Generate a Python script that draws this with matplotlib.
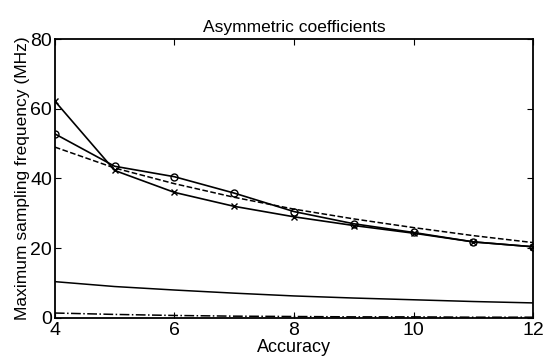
import matplotlib
matplotlib.use("Agg")
import matplotlib.pyplot as plt

plt.rcParams['font.family'] = ['Liberation Sans', 'DejaVu Sans']

accuracy = [4, 5, 6, 7, 8, 9, 10, 11, 12]
cross_vals = [62.2, 42.3, 36.0, 32.0, 29.0, 26.5, 24.3, 21.8, 20.4]
circle_vals = [52.8, 43.5, 40.5, 35.8, 30.5, 27.0, 24.5, 21.8, 20.4]
dashed_vals = [49.0, 43.0, 38.5, 34.6, 31.2, 28.4, 25.9, 23.6, 21.6]
lower_vals = [10.4, 9.0, 8.0, 7.1, 6.3, 5.7, 5.2, 4.7, 4.3]
dashdot_vals = [1.4, 1.0, 0.7, 0.5, 0.4, 0.3, 0.3, 0.2, 0.2]

fig = plt.figure(figsize=(5.43, 3.58), dpi=100)
ax = fig.add_axes([0.101, 0.112, 0.881, 0.779])

ax.plot(accuracy, cross_vals, 'k-', marker='x', markersize=5, linewidth=1.2)
ax.plot(accuracy, circle_vals, 'k-', marker='o', markersize=5, markerfacecolor='none', linewidth=1.2)
ax.plot(accuracy, dashed_vals, 'k--', linewidth=1.1)
ax.plot(accuracy, lower_vals, 'k-', linewidth=1.1)
ax.plot(accuracy, dashdot_vals, 'k-.', linewidth=1.1)

ax.set_xlim(4, 12)
ax.set_ylim(0, 80)
ax.set_xticks([4, 6, 8, 10, 12])
ax.set_yticks([0, 20, 40, 60, 80])
ax.tick_params(direction='in', top=True, right=True, labelsize=14, length=4)
ax.tick_params(axis='x', pad=3)
ax.tick_params(axis='y', pad=2)
for s in ax.spines.values():
    s.set_linewidth(1.3)

ax.set_title('Asymmetric coefficients', fontsize=12.5, pad=5)
ax.set_xlabel('Accuracy', fontsize=13, labelpad=0)
ax.set_ylabel('Maximum sampling frequency (MHz)', fontsize=12.5, labelpad=0)

fig.savefig('out.png', dpi=100)
